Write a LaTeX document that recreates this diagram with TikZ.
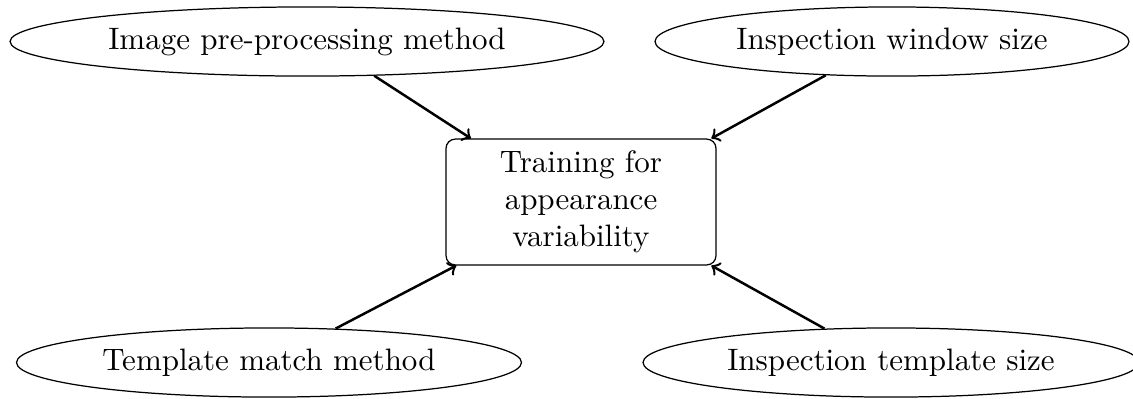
\documentclass[tikz,border=0pt]{standalone}
\usetikzlibrary{shapes.geometric}
\begin{document}
\begin{tikzpicture}[x=0.3226pt,y=-0.3226pt,
  oval/.style={draw,ellipse,inner sep=0pt,minimum height=22.3pt},
  central/.style={draw,rectangle,rounded corners=3pt,align=center,
    minimum width=87.1pt,minimum height=40.6pt,inner sep=0pt},
  link/.style={->,thick}]
\useasboundingbox (0,0) rectangle (1133,398);
\node[central] (rect) at (581,202) {Training for\\appearance\\variability};
\node[oval,minimum width=191.6pt] (tl) at (307,41.5) {Image pre-processing method};
\node[oval,minimum width=152.9pt] (tr) at (892,41.5) {Inspection window size};
\node[oval,minimum width=162.9pt] (bl) at (269,362.5) {Template match method};
\node[oval,minimum width=160pt] (br) at (891,362.5) {Inspection template size};
\draw[link] (tl.-27) -- (rect.150);
\draw[link] (tr.207) -- (rect.26);
\draw[link] (bl.27) -- (rect.207);
\draw[link] (br.153) -- (rect.-26.5);
\end{tikzpicture}
\end{document}
